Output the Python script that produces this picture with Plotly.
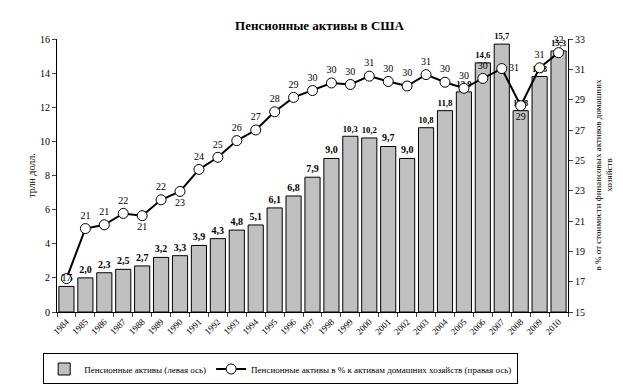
import plotly.graph_objects as go

years = [str(y) for y in range(1984, 2011)]
assets = [1.5, 2.0, 2.3, 2.5, 2.7, 3.2, 3.3, 3.9, 4.3, 4.8, 5.1, 6.1, 6.8, 7.9, 9.0,
          10.3, 10.2, 9.7, 9.0, 10.8, 11.8, 12.9, 14.6, 15.7, 11.8, 13.8, 15.3]
share = [17.2, 20.5, 20.75, 21.5, 21.35, 22.4, 22.95, 24.4, 25.2, 26.3, 27.0, 28.2, 29.15,
         29.6, 30.1, 30.0, 30.55, 30.2, 29.9, 30.65, 30.15, 29.75, 30.4, 31.05, 28.6, 31.1, 32.1]
share_pos = ["middle center", "top center", "top center", "top center", "bottom center",
             "top center", "bottom center", "top center", "top center", "top center",
             "top center", "top center", "top center", "top center", "top center",
             "top center", "top center", "top center", "top center", "top center",
             "top center", "top center", "top center", "middle right", "bottom center",
             "top center", "top center"]

SERIF = "Liberation Serif"

fig = go.Figure()
fig.add_trace(go.Bar(
    x=years, y=assets, name="Пенсионные активы (левая ось)",
    marker=dict(color="#C0C0C0", line=dict(color="black", width=1)),
    texttemplate="<b>%{y:.1f}</b>", textposition="outside",
    textfont=dict(family=SERIF, size=10, color="black"),
    cliponaxis=False, yaxis="y",
))
fig.add_trace(go.Scatter(
    x=years, y=share, name="Пенсионные активы в % к активам домашних хозяйств (правая ось)",
    mode="lines+markers+text",
    line=dict(color="black", width=2),
    marker=dict(symbol="circle", size=10, color="white", line=dict(color="black", width=1)),
    texttemplate="%{y:.0f}", textposition=share_pos,
    textfont=dict(family=SERIF, size=10, color="black"),
    cliponaxis=False, yaxis="y2",
))

fig.update_layout(
    width=623, height=388,
    margin=dict(l=49, r=63, t=31, b=75),
    paper_bgcolor="white", plot_bgcolor="white",
    separators=", ",
    font=dict(family=SERIF, size=10, color="black"),
    title=dict(text="<b>Пенсионные активы в США</b>", x=0.5, xanchor="center",
               y=0.956, yanchor="middle", font=dict(family=SERIF, size=13, color="black")),
    bargap=0.2,
    showlegend=True,
    legend=dict(orientation="h", x=-0.027, xanchor="left", y=-0.152, yanchor="top",
                bordercolor="black", borderwidth=1, bgcolor="white",
                font=dict(family=SERIF, size=9, color="black"),
                itemwidth=30, traceorder="normal"),
    xaxis=dict(type="category", range=[-0.5, 26.5], tickangle=-45,
               ticks="outside", ticklen=4, tickson="boundaries",
               showline=True, linecolor="black", linewidth=1,
               tickfont=dict(family=SERIF, size=9), showgrid=False),
    yaxis=dict(range=[0, 16], dtick=2, tick0=0, ticks="outside", ticklen=4,
               showline=True, linecolor="black", linewidth=1, showgrid=False,
               zeroline=False, tickfont=dict(family=SERIF, size=10),
               title=dict(text="трлн долл.", font=dict(family=SERIF, size=10), standoff=2)),
    yaxis2=dict(range=[15, 33], dtick=2, tick0=15, overlaying="y", side="right",
                ticks="outside", ticklen=4, showline=True, linecolor="black", linewidth=1,
                showgrid=False, zeroline=False, tickfont=dict(family=SERIF, size=10)),
    annotations=[dict(text="в % от стоимости финансовых активов домашних<br>хозяйств",
                      xref="paper", yref="paper", x=(595 - 49) / 511, y=0.5, xanchor="center",
                      yanchor="middle", textangle=-90, showarrow=False,
                      font=dict(family=SERIF, size=9, color="black"))],
)

fig.write_html("out.html")
